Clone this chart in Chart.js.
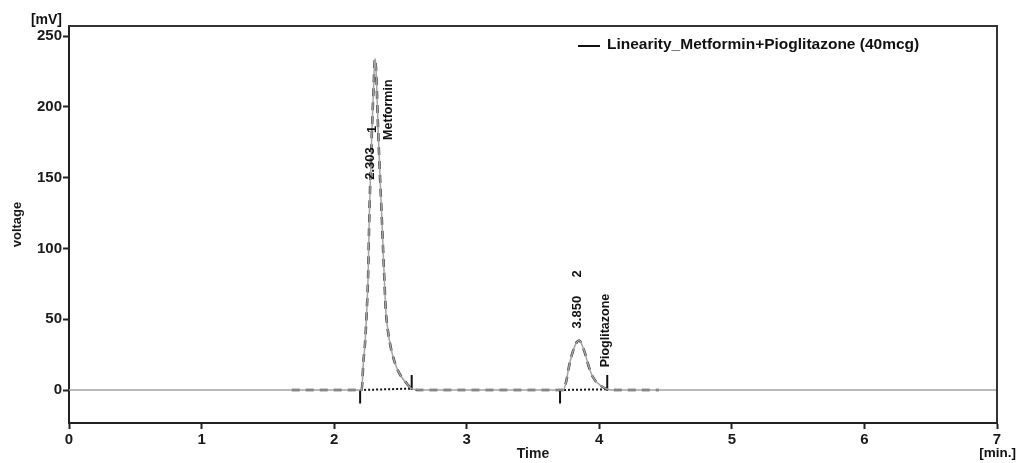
<!DOCTYPE html>
<html>
<head>
<meta charset="utf-8">
<script src="https://cdn.jsdelivr.net/npm/chart.js@4/dist/chart.umd.min.js"></script>
<style>
  html, body { margin: 0; padding: 0; background: #fff; }
  #wrap { width: 1017px; height: 463px; }
</style>
</head>
<body>
<div id="wrap"><canvas id="myChart" width="1017" height="463"></canvas></div>
<script>
// chromatogram trace (time in min, signal in mV)
const traceTime = [0, 1.68, 2.196, 2.208, 2.214, 2.220, 2.233, 2.246, 2.256, 2.266, 2.285, 2.298, 2.304, 2.309, 2.313, 2.318, 2.332, 2.357, 2.378, 2.389, 2.400, 2.421, 2.440, 2.459, 2.485, 2.510, 2.535, 2.557, 2.585, 2.65,
                   3.704, 3.729, 3.745, 3.757, 3.766, 3.782, 3.797, 3.815, 3.832, 3.848, 3.862, 3.877, 3.892, 3.910, 3.930, 3.950, 3.970, 3.993, 4.020, 4.060, 4.10, 4.45, 7];
const traceVolt = [0, 0, 0, 0, 8, 19, 33, 56, 80, 125, 183, 215, 229, 234, 231, 223, 183, 127, 80, 57, 46, 33, 25, 19, 13, 9, 6, 3.5, 1, 0,
                   0, 0, 4, 9, 14, 21, 26, 31, 34, 35, 33.5, 30, 26, 20, 14, 9.5, 6.5, 4.5, 2.5, 0.5, 0, 0, 0];

// integration window of each peak
const peakStart = [2.196, 3.704];
const peakEnd = [2.585, 4.060];
const peakEndVolt = [1, 0.5];
const peakRT = ['2.303', '3.850'];
const peakNo = ['1', '2'];
const peakName = ['Metformin', 'Pioglitazone'];

const xTicks = [0, 1, 2, 3, 4, 5, 6, 7];
const yTicks = [0, 50, 100, 150, 200, 250];
const seriesName = 'Linearity_Metformin+Pioglitazone (40mcg)';

// build point lists
let trace = traceTime.map((t, i) => ({x: t, y: traceVolt[i]}));
let darkPart = trace.filter(p => p.x >= 1.68 && p.x <= 4.45);

let baseLines = [];
let startMarks = [];
let endMarks = [];
for (let i = 0; i < peakStart.length; i++) {
    baseLines.push({x: peakStart[i], y: 0}, {x: peakEnd[i], y: peakEndVolt[i]}, {x: peakEnd[i], y: null});
    startMarks.push({x: peakStart[i], y: 0}, {x: peakStart[i], y: -9.5}, {x: peakStart[i], y: null});
    endMarks.push({x: peakEnd[i], y: peakEndVolt[i] - 1}, {x: peakEnd[i], y: 10.6}, {x: peakEnd[i], y: null});
}

// label spots (time, mV) for the rotated peak texts
const labelSpots = [
    {rt: [2.274, 160], no: [2.287, 184], name: [2.410, 198]},
    {rt: [3.836, 55], no: [3.836, 82], name: [4.047, 42]}
];

const extras = {
    id: 'extras',
    afterDatasetsDraw(chart) {
        const ctx = chart.ctx;
        const a = chart.chartArea;
        const xs = chart.scales.x;
        const ys = chart.scales.y;
        ctx.save();
        // top and right frame
        ctx.strokeStyle = '#333';
        ctx.lineWidth = 2;
        ctx.beginPath();
        ctx.moveTo(a.left, a.top);
        ctx.lineTo(a.right, a.top);
        ctx.lineTo(a.right, a.bottom);
        ctx.stroke();

        // peak labels
        ctx.fillStyle = '#111';
        ctx.textAlign = 'center';
        ctx.textBaseline = 'middle';
        const rotText = (txt, pos, font) => {
            ctx.save();
            ctx.font = font;
            ctx.translate(xs.getPixelForValue(pos[0]), ys.getPixelForValue(pos[1]));
            ctx.rotate(-Math.PI / 2);
            ctx.fillText(txt, 0, 0);
            ctx.restore();
        };
        for (let i = 0; i < peakRT.length; i++) {
            rotText(peakRT[i], labelSpots[i].rt, 'bold 13px "Liberation Sans", Arial, sans-serif');
            rotText(peakNo[i], labelSpots[i].no, 'bold 13px "Liberation Sans", Arial, sans-serif');
            rotText(peakName[i], labelSpots[i].name, 'bold 12.5px "Liberation Sans", Arial, sans-serif');
        }

        // legend
        ctx.strokeStyle = '#111';
        ctx.lineWidth = 2;
        ctx.beginPath();
        ctx.moveTo(578, 46);
        ctx.lineTo(600, 46);
        ctx.stroke();
        ctx.textAlign = 'left';
        ctx.font = 'bold 15.5px "Liberation Sans", Arial, sans-serif';
        ctx.fillText(seriesName, 607, 45);

        // units
        ctx.font = 'bold 14px "Liberation Sans", Arial, sans-serif';
        ctx.textAlign = 'right';
        ctx.fillText('[mV]', 62, 20);
        ctx.font = 'bold 13.5px "Liberation Sans", Arial, sans-serif';
        ctx.fillText('[min.]', 1016, 453);
        ctx.restore();
    }
};

const ctx = document.getElementById('myChart').getContext('2d');
const chromChart = new Chart(ctx, {
    type: 'line',
    data: {
        datasets: [{
            label: seriesName,
            data: trace,
            borderColor: '#a3a3a3',
            borderWidth: 1.5,
            pointRadius: 0,
            cubicInterpolationMode: 'monotone'
        }, {
            label: 'dark',
            data: darkPart,
            borderColor: '#333',
            borderWidth: 2.5,
            borderDash: [8, 6],
            pointRadius: 0,
            cubicInterpolationMode: 'monotone'
        }, {
            label: 'baseline',
            data: baseLines,
            borderColor: '#111',
            borderWidth: 2,
            borderDash: [2, 2],
            pointRadius: 0,
            spanGaps: false
        }, {
            label: 'start',
            data: startMarks,
            borderColor: '#111',
            borderWidth: 2,
            pointRadius: 0,
            spanGaps: false
        }, {
            label: 'end',
            data: endMarks,
            borderColor: '#111',
            borderWidth: 2,
            pointRadius: 0,
            spanGaps: false
        }]
    },
    options: {
        responsive: false,
        animation: false,
        layout: { padding: { top: 26, right: 20, left: 0, bottom: 0 } },
        plugins: {
            legend: { display: false },
            tooltip: { enabled: false }
        },
        scales: {
            x: {
                type: 'linear',
                min: 0,
                max: 7,
                afterFit: s => { s.height = 40; },
                afterBuildTicks: s => { s.ticks = xTicks.map(v => ({value: v})); },
                grid: { drawOnChartArea: false, tickLength: 6, tickWidth: 2, tickColor: '#222' },
                border: { color: '#222', width: 2 },
                ticks: {
                    padding: 2,
                    color: '#1a1a1a',
                    font: { family: '"Liberation Sans", Arial, sans-serif', size: 15, weight: 'bold' }
                },
                title: {
                    display: true,
                    text: 'Time',
                    color: '#1a1a1a',
                    padding: { top: 0, bottom: 0 },
                    font: { family: '"Liberation Sans", Arial, sans-serif', size: 14, weight: 'bold' }
                }
            },
            y: {
                min: -23.3,
                max: 257.1,
                afterFit: s => { s.width = 69; },
                afterBuildTicks: s => { s.ticks = yTicks.map(v => ({value: v})); },
                grid: { drawOnChartArea: false, tickLength: 6, tickWidth: 2, tickColor: '#222' },
                border: { color: '#222', width: 2 },
                ticks: {
                    padding: 1,
                    color: '#1a1a1a',
                    font: { family: '"Liberation Sans", Arial, sans-serif', size: 15, weight: 'bold' }
                },
                title: {
                    display: true,
                    text: 'voltage',
                    color: '#1a1a1a',
                    padding: { top: 10, bottom: 0 },
                    font: { family: '"Liberation Sans", Arial, sans-serif', size: 13, weight: 'bold' }
                }
            }
        }
    },
    plugins: [extras]
});
</script>
</body>
</html>
